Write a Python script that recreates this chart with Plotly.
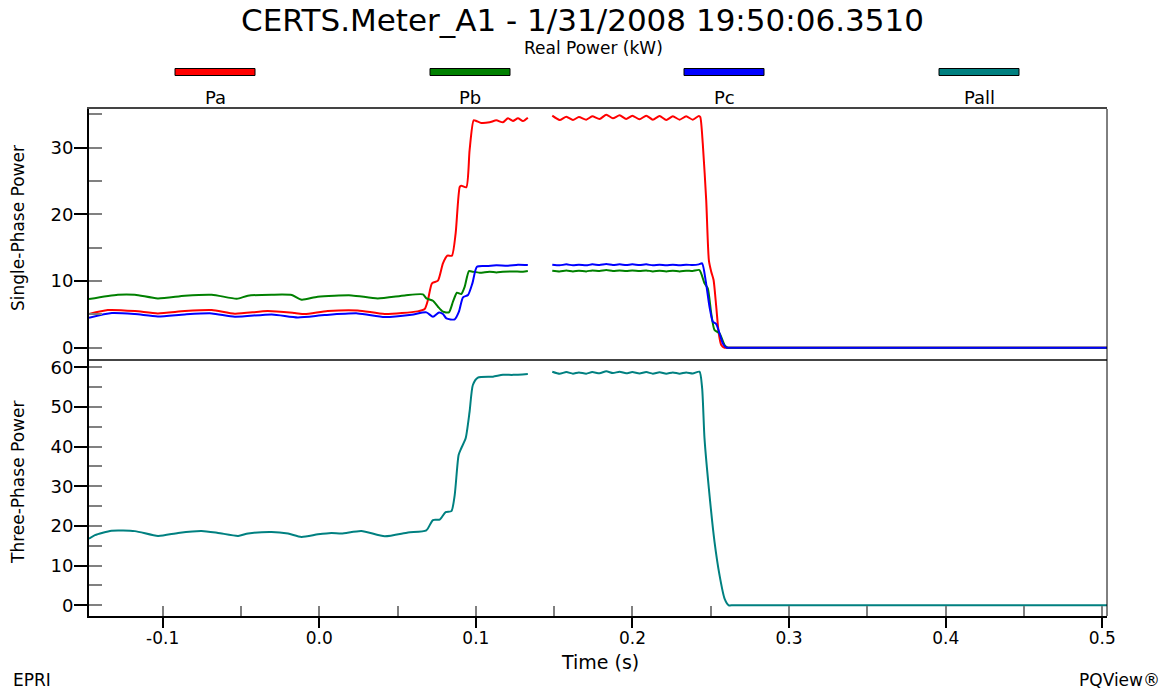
import plotly.graph_objects as go

# ---------------- data ----------------
pa_t = [-0.147, -0.135, -0.1177, -0.1031, -0.0858, -0.0686, -0.0539, -0.0329, -0.0156, -0.0093,
        0.0054, 0.0246, 0.0418, 0.0628, 0.0673, 0.0694, 0.0720, 0.0758, 0.0790, 0.0818, 0.0847,
        0.0871, 0.0897, 0.0907, 0.0939, 0.0960, 0.0986, 0.1003, 0.1035, 0.1088, 0.1131, 0.1173,
        0.1205, 0.1237, 0.1269, 0.1301, 0.1332, 0.141,
        0.1488, 0.1535, 0.1578, 0.1620, 0.1658, 0.1705, 0.1743, 0.1790, 0.1833, 0.1875, 0.1918,
        0.1960, 0.1999, 0.2045, 0.2088, 0.2130, 0.2173, 0.2216, 0.2258, 0.2301, 0.2343, 0.2385,
        0.2424, 0.2433, 0.2449, 0.2471, 0.2488, 0.2503, 0.2518, 0.2535, 0.2551, 0.2567, 0.2588,
        0.2610, 0.2700, 0.503]
pa_v = [5.05, 5.65, 5.5, 5.15, 5.5, 5.65, 5.1, 5.5, 5.2, 5.05,
        5.5, 5.6, 5.05, 5.45, 5.8, 7.15, 9.65, 10.05, 12.65, 13.8, 13.8,
        17.15, 24.1, 24.3, 24.05, 29.6, 34.1, 34.0, 33.7, 33.8, 34.1, 33.8,
        34.4, 34.0, 34.4, 34.0, 34.5, None,
        34.8, 34.15, 34.65, 34.15, 34.6, 34.2, 34.7, 34.3, 34.95, 34.4, 34.85,
        34.3, 34.8, 34.25, 34.8, 34.2, 34.75, 34.15, 34.7, 34.2, 34.7, 34.2,
        34.75, 34.6, 30.6, 22.1, 13.1, 11.4, 10.15, 6.15, 2.15, 0.4, 0.0,
        0.0, 0.0, 0.0]

pb_t = [-0.147, -0.1286, -0.1177, -0.1031, -0.0858, -0.0686, -0.0526, -0.0456, -0.0303, -0.0175,
        -0.0112, -0.0010, 0.0207, 0.0373, 0.0546, 0.0662, 0.0684, 0.0726, 0.0758, 0.0790, 0.0828,
        0.0854, 0.0879, 0.0907, 0.0929, 0.0956, 0.0981, 0.1024, 0.1088, 0.1131, 0.1173, 0.1237,
        0.1301, 0.1332, 0.141,
        0.1488, 0.1535, 0.1578, 0.1620, 0.1658, 0.1705, 0.1743, 0.1790, 0.1833, 0.1875, 0.1918,
        0.1960, 0.1999, 0.2045, 0.2088, 0.2130, 0.2173, 0.2216, 0.2258, 0.2301, 0.2343, 0.2385,
        0.2428, 0.2460, 0.2481, 0.2503, 0.2524, 0.2556, 0.2588, 0.2609, 0.2630, 0.2720, 0.503]
pb_v = [7.3, 7.95, 7.95, 7.4, 7.8, 7.95, 7.35, 7.8, 7.95, 7.9,
        7.2, 7.65, 7.85, 7.4, 7.85, 8.0, 7.4, 7.05, 6.15, 5.4, 5.3,
        6.9, 8.25, 8.05, 9.15, 11.5, 11.4, 11.25, 11.4, 11.3, 11.4, 11.45,
        11.4, 11.5, None,
        11.55, 11.45, 11.6, 11.45, 11.55, 11.45, 11.6, 11.5, 11.65, 11.5, 11.6,
        11.5, 11.6, 11.5, 11.6, 11.45, 11.55, 11.45, 11.55, 11.45, 11.55, 11.5,
        11.65, 9.65, 8.9, 5.15, 2.65, 2.15, 0.4, 0.0, 0.0, 0.0, 0.0]

pc_t = [-0.147, -0.1324, -0.1177, -0.1031, -0.0858, -0.0686, -0.0539, -0.0303, -0.0137, 0.0035,
        0.0246, 0.0418, 0.0590, 0.0684, 0.0726, 0.0765, 0.0790, 0.0812, 0.0865, 0.0892, 0.0918,
        0.0950, 0.0978, 0.1007, 0.1067, 0.1131, 0.1205, 0.1269, 0.1332, 0.141,
        0.1488, 0.1535, 0.1578, 0.1620, 0.1658, 0.1705, 0.1743, 0.1790, 0.1833, 0.1875, 0.1918,
        0.1960, 0.1999, 0.2045, 0.2088, 0.2130, 0.2173, 0.2216, 0.2258, 0.2301, 0.2343, 0.2385,
        0.2424, 0.2445, 0.2467, 0.2492, 0.2513, 0.2535, 0.2556, 0.2577, 0.2602, 0.2625, 0.2710,
        0.503]
pc_v = [4.5, 5.2, 5.05, 4.7, 5.0, 5.15, 4.65, 5.0, 4.55, 4.9,
        5.15, 4.6, 4.95, 5.3, 4.65, 5.3, 5.05, 4.4, 4.25, 5.4, 7.55,
        7.9, 9.65, 12.15, 12.25, 12.35, 12.3, 12.45, 12.4, None,
        12.45, 12.35, 12.5, 12.35, 12.45, 12.35, 12.5, 12.4, 12.55, 12.4, 12.5,
        12.4, 12.5, 12.4, 12.5, 12.35, 12.45, 12.35, 12.45, 12.35, 12.45, 12.4,
        12.5, 12.65, 10.15, 6.15, 3.9, 3.55, 2.15, 0.65, 0.0, 0.0, 0.0,
        0.0]

pall_t = [-0.147, -0.1432, -0.1326, -0.1177, -0.1029, -0.0901, -0.0752, -0.0646, -0.0518, -0.0454,
          -0.0305, -0.0199, -0.0114, -0.0008, 0.0078, 0.0142, 0.0269, 0.0418, 0.0567, 0.0684,
          0.0726, 0.0769, 0.0807, 0.0844, 0.0865, 0.0890, 0.0907, 0.0935, 0.0960, 0.0981, 0.1013,
          0.1109, 0.1173, 0.1237, 0.1332, 0.141,
          0.1488, 0.1535, 0.1578, 0.1620, 0.1658, 0.1705, 0.1743, 0.1790, 0.1833, 0.1875, 0.1918,
          0.1960, 0.1999, 0.2045, 0.2088, 0.2130, 0.2173, 0.2216, 0.2258, 0.2301, 0.2343, 0.2385,
          0.2428, 0.2445, 0.2460, 0.2492, 0.2524, 0.2556, 0.2588, 0.2615, 0.2640, 0.2730, 0.503]
pall_v = [16.8, 17.7, 18.8, 18.7, 17.5, 18.25, 18.75, 18.25, 17.5, 18.1,
          18.5, 18.1, 17.25, 17.9, 18.25, 18.1, 18.75, 17.4, 18.35, 18.9,
          21.5, 21.6, 23.5, 23.75, 27.8, 37.9, 39.6, 42.1, 48.8, 55.55, 57.4,
          57.65, 58.1, 58.1, 58.35, None,
          58.9, 58.4, 58.8, 58.4, 58.7, 58.4, 58.8, 58.5, 59.0, 58.55, 58.9,
          58.5, 58.8, 58.45, 58.8, 58.4, 58.75, 58.4, 58.7, 58.4, 58.7, 58.45,
          58.9, 54.7, 42.1, 27.8, 16.0, 7.6, 1.7, 0.0, 0.0, 0.0, 0.0]

series_names = ["Pa", "Pb", "Pc", "Pall"]
series_colors = ["#ff0000", "#008000", "#0000ff", "#008080"]

top_ticks = [0, 10, 20, 30]
bot_ticks = [0, 10, 20, 30, 40, 50, 60]
x_ticks = [-0.1, 0.0, 0.1, 0.2, 0.3, 0.4, 0.5]
x_labels = ["-0.1", "0.0", "0.1", "0.2", "0.3", "0.4", "0.5"]

# ---------------- layout geometry ----------------
W, H = 1166, 691
L, R, T, B = 89, 1107, 109, 616
DIV = 359.4
split = (B - DIV) / (B - T)
FONT = "DejaVu Sans, Liberation Sans, Arial, sans-serif"


def px(x):
    return (x - L) / (R - L)


def py(y):
    return (B - y) / (B - T)


fig = go.Figure()
for t, v, name, col, ax in [(pa_t, pa_v, "Pa", series_colors[0], "y"),
                             (pb_t, pb_v, "Pb", series_colors[1], "y"),
                             (pc_t, pc_v, "Pc", series_colors[2], "y"),
                             (pall_t, pall_v, "Pall", series_colors[3], "y2")]:
    fig.add_trace(go.Scatter(x=t, y=v, name=name, mode="lines",
                             line=dict(color=col, width=2, shape="spline", smoothing=0.6),
                             xaxis="x" if ax == "y" else "x2", yaxis=ax,
                             connectgaps=False, hoverinfo="skip"))

xr = [-0.147, 0.503]
ytickfont = dict(family=FONT, size=18, color="black")
xtickfont = dict(family=FONT, size=17, color="black")

fig.update_layout(
    width=W, height=H,
    margin=dict(l=L, r=W - R, t=T, b=H - B),
    paper_bgcolor="white", plot_bgcolor="white",
    showlegend=False,
    font=dict(family=FONT, color="black"),
    xaxis=dict(domain=[0, 1], anchor="y", range=xr, showgrid=False, zeroline=False,
               showticklabels=False, ticks="", showline=True, linecolor="#444444",
               linewidth=2, mirror=True, matches="x2"),
    yaxis=dict(domain=[split, 1], anchor="x", range=[-1.75, 35.8], showgrid=False,
               zeroline=False, tickvals=top_ticks, ticks="outside", ticklen=13,
               tickwidth=1.5, tickcolor="black", showline=True, linecolor="black",
               linewidth=2, tickfont=ytickfont, ticklabelstandoff=-3,
               minor=dict(ticks="inside", dtick=5, tick0=0, ticklen=13, tickwidth=1.5,
                          tickcolor="#808080")),
    xaxis2=dict(domain=[0, 1], anchor="y2", range=xr, showgrid=False, zeroline=False,
                tickvals=x_ticks, ticktext=x_labels, ticks="outside", ticklen=10,
                tickwidth=1.5, tickcolor="black", showline=True, linecolor="black",
                linewidth=2, tickfont=xtickfont, ticklabelstandoff=-4,
                minor=dict(ticks="inside", dtick=0.05, tick0=0, ticklen=10, tickwidth=1.5,
                           tickcolor="#808080")),
    yaxis2=dict(domain=[0, split], anchor="x2", range=[-2.7, 62], showgrid=False,
                zeroline=False, tickvals=bot_ticks, ticks="outside", ticklen=13,
                tickwidth=1.5, tickcolor="black", showline=True, linecolor="black",
                linewidth=2, tickfont=ytickfont, ticklabelstandoff=-3,
                minor=dict(ticks="inside", dtick=5, tick0=0, ticklen=13, tickwidth=1.5,
                           tickcolor="#808080")),
    # overlay axes: the inner half of the crossing major ticks
    yaxis3=dict(overlaying="y", anchor="x", side="left", range=[-1.75, 35.8],
                tickvals=top_ticks, ticks="inside", ticklen=13, tickwidth=1.5,
                tickcolor="black", showticklabels=False, showgrid=False, zeroline=False,
                showline=False),
    yaxis4=dict(overlaying="y2", anchor="x2", side="left", range=[-2.7, 62],
                tickvals=bot_ticks, ticks="inside", ticklen=13, tickwidth=1.5,
                tickcolor="black", showticklabels=False, showgrid=False, zeroline=False,
                showline=False),
    xaxis3=dict(overlaying="x2", anchor="y2", side="bottom", range=xr,
                tickvals=x_ticks, ticks="inside", ticklen=10, tickwidth=1.5,
                tickcolor="black", showticklabels=False, showgrid=False, zeroline=False,
                showline=False),
)

shapes = []
# right border
shapes.append(dict(type="line", xref="paper", yref="paper", x0=1, x1=1, y0=0, y1=1,
                   line=dict(color="black", width=1)))
# legend swatches
sw = [(175, 255), (430, 510), (684, 764), (939, 1019)]
for (a, b), col in zip(sw, series_colors):
    shapes.append(dict(type="rect", xref="paper", yref="paper", x0=px(a), x1=px(b),
                       y0=py(75.5), y1=py(68.5), fillcolor=col,
                       line=dict(color="black", width=1)))


def note(text, x, y, size, xanchor="center", angle=0):
    return dict(text=text, x=px(x), y=py(y), xref="paper", yref="paper", showarrow=False,
                xanchor=xanchor, yanchor="middle", textangle=angle,
                font=dict(family=FONT, size=size, color="black"))


ann = [
    note("CERTS.Meter_A1 - 1/31/2008 19:50:06.3510", 582, 20, 31),
    note("Real Power (kW)", 593, 48, 17),
]
for (a, b), name in zip(sw, series_names):
    ann.append(note(name, (a + b) / 2, 97, 18))
ann += [
    note("Single-Phase Power", 18, 228, 17, angle=-90),
    note("Three-Phase Power", 18, 483, 17, angle=-90),
    note("Time (s)", 600, 662, 19),
    note("EPRI", 11, 680, 17, xanchor="left"),
    note("PQView®", 1162, 680, 17, xanchor="right"),
]

fig.update_layout(shapes=shapes, annotations=ann)
fig.write_html("out.html", config={"displayModeBar": False},
               post_script="document.body.style.margin='0';")
